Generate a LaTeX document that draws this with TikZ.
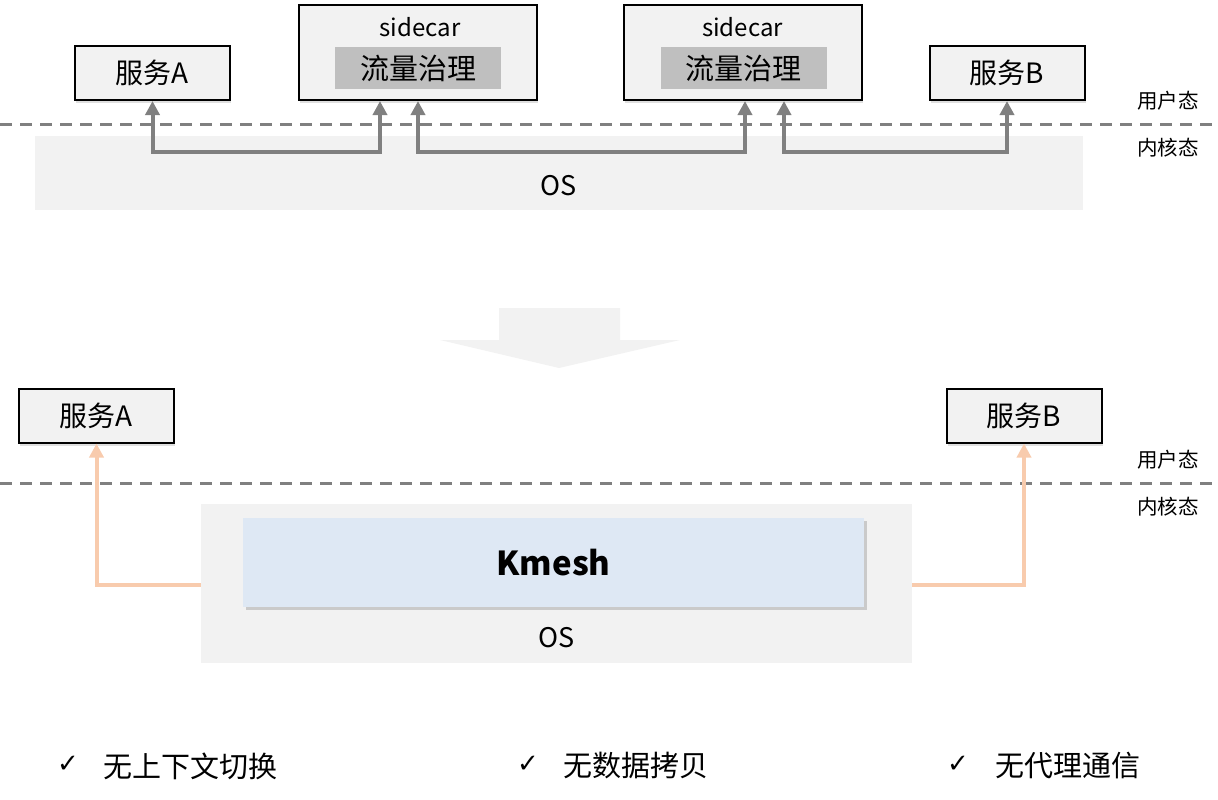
\documentclass[tikz,border=0pt]{standalone}
\usepackage{fontspec}
\setmainfont{Noto Sans CJK SC}
\newfontfamily\symfont{DejaVu Sans}
\usetikzlibrary{arrows.meta,shadows,calc}
\definecolor{boxfill}{HTML}{F2F2F2}
\definecolor{osfill}{HTML}{F2F2F2}
\definecolor{innerfill}{HTML}{BFBFBF}
\definecolor{kfill}{HTML}{DEE8F4}
\definecolor{garr}{HTML}{808080}
\definecolor{oarr}{HTML}{F8CBAD}
\newcommand{\fs}[1]{\fontsize{#1}{#1}\selectfont}
\tikzset{
  svc/.style={draw=black, line width=2pt, fill=boxfill, minimum width=155pt, minimum height=54pt, inner sep=0pt, font=\fs{28},
    drop shadow={shadow xshift=1pt, shadow yshift=-3pt, opacity=0.25}},
  sidebox/.style={draw=black, line width=2pt, fill=boxfill, minimum width=238pt, minimum height=95pt, inner sep=0pt,
    drop shadow={shadow xshift=1pt, shadow yshift=-3pt, opacity=0.25}},
  inner/.style={fill=innerfill, minimum width=166pt, minimum height=42pt, inner sep=0pt, font=\fs{29}},
  osbox/.style={fill=osfill, inner sep=0pt},
  sep/.style={draw=garr, line width=3pt, dash pattern=on 12pt off 8pt},
  lbl/.style={font=\fs{20.5}, inner sep=0pt},
  garrow/.style={draw=garr, line width=4pt, {Triangle[length=14pt,width=14pt]}-{Triangle[length=14pt,width=14pt]}},
  oarrow/.style={draw=oarr, line width=4pt, -{Triangle[length=14pt,width=14pt]}},
  feat/.style={font=\fs{29}, inner sep=0pt, anchor=west},
  chk/.style={font=\symfont\fs{26}, inner sep=0pt},
}
\begin{document}
\begin{tikzpicture}[x=1pt,y=-1pt]
\useasboundingbox (0,0) rectangle (1218,800);
% ---------- top ----------
\node[osbox, minimum width=1048pt, minimum height=74pt] (os1) at (559,173) {};
\node[font=\fs{27}] (os1t) at (559,186) {OS};
\draw[sep] (0,124) -- (1218,124);
\node[lbl] (u1) at (1168,101) {用户态};
\node[lbl] (k1) at (1168,148) {内核态};

\node[svc] (a1) at (152.5,73) {服务A};
\node[svc] (b1) at (1007,73) {服务B};
\node[sidebox] (s1) at (418,52.5) {};
\node[font=\fs{24}, inner sep=0pt] (s1t) at (420,27) {sidecar};
\node[inner] (s1i) at (418,68) {流量治理};
\node[sidebox] (s2) at (742.5,52.5) {};
\node[font=\fs{24}, inner sep=0pt] (s2t) at (742.5,27) {sidecar};
\node[inner] (s2i) at (743.5,68) {流量治理};

\draw[garrow] (a1.south) -- ++(0,51) -| ([xshift=-38pt]s1.south);
\draw[garrow] (s1.south) -- ++(0,51) -| ([xshift=2.5pt]s2.south);
\draw[garrow] ([xshift=41.5pt]s2.south) -- ++(0,51) -| (b1.south);

% ---------- big arrow ----------
\fill[osfill] (499,308) -- (620,308) -- (620,340) -- (680,340) -- (559,368) -- (440,340) -- (499,340) -- cycle;

% ---------- bottom ----------
\node[osbox, minimum width=711pt, minimum height=159pt] (os2) at (556.5,583.5) {};
\node[font=\fs{27}] (os2t) at (557,638) {OS};
\node[fill=kfill, minimum width=621pt, minimum height=89pt, inner sep=0pt, font=\fs{33}\bfseries,
  drop shadow={shadow xshift=3pt, shadow yshift=-3pt, opacity=0.35}] (km) at (553.5,562.5) {Kmesh};
\draw[sep] (0,483) -- (1218,483);
\node[lbl] (u2) at (1168,460) {用户态};
\node[lbl] (k2) at (1168,507) {内核态};

\node[svc] (a2) at (96.5,415.5) {服务A};
\node[svc] (b2) at (1024,415.5) {服务B};
\draw[oarrow] ([yshift=-1.5pt]os2.west) -| (a2.south);
\draw[oarrow] ([yshift=-1.5pt]os2.east) -| (b2.south);

% ---------- features ----------
\node[chk] (c1) at (68,764) {✓};
\node[feat] (f1) at (103,766) {无上下文切换};
\node[chk] (c2) at (528,764) {✓};
\node[feat] (f2) at (563,766) {无数据拷贝};
\node[chk] (c3) at (958,764) {✓};
\node[feat] (f3) at (995,766) {无代理通信};
\end{tikzpicture}
\end{document}
